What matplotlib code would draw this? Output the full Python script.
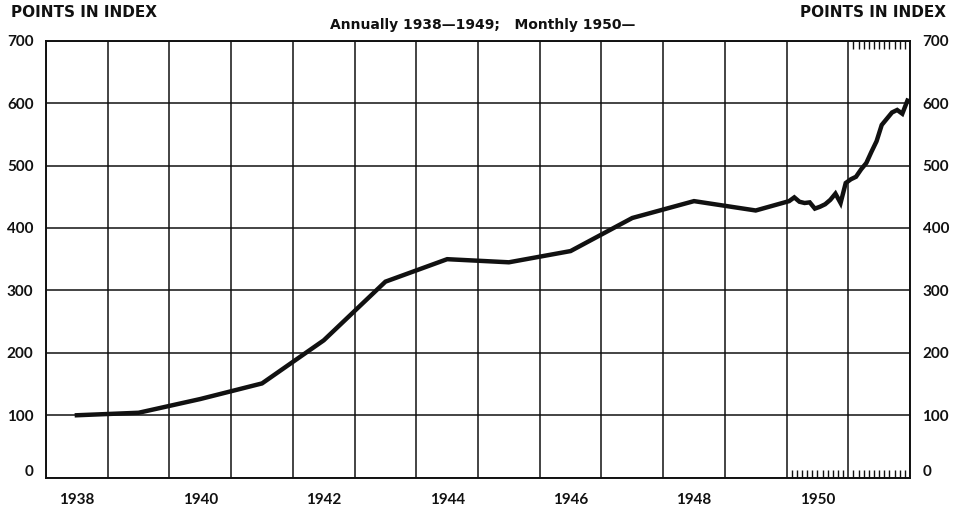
#! /usr/bin/env python3

import matplotlib.pyplot as plt
import matplotlib.transforms as mtrans
import numpy as np

plt.rcParams['font.family'] = ['Lato', 'DejaVu Sans']
plt.rcParams['font.weight'] = 'bold'

# Annual values 1938-1949 (plotted mid-year)
annual_years = [1938, 1939, 1940, 1941, 1942, 1943, 1944, 1945, 1946, 1947, 1948, 1949]
annual_index = [100, 104, 126, 151, 220, 314, 350, 345, 363, 416, 443, 428]

# Monthly values Jan 1950 - Dec 1951
monthly_index = [443, 449, 442, 440, 441, 431, 434, 438, 445, 455, 440, 472,
                 478, 482, 494, 504, 522, 539, 565, 575, 585, 589, 583, 604]

year_labels = [1938, 1940, 1942, 1944, 1946, 1948, 1950]
y_levels = [0, 100, 200, 300, 400, 500, 600, 700]

ink = '#111111'

x_annual = np.array(annual_years) + 0.5
x_monthly = 1950 + (np.arange(len(monthly_index)) + 0.5) / 12
x_all = np.concatenate([x_annual, x_monthly])
y_all = np.concatenate([annual_index, monthly_index])

fig = plt.figure(figsize=(9.57, 5.11), dpi=100)
ax = fig.add_axes([0.0481, 0.0652, 0.9028, 0.8552])

ax.plot(x_all, y_all, color=ink, lw=3.2, solid_joinstyle='miter')

ax.set_xlim(1938, 1952)
ax.set_ylim(0, 700)

# grid on year boundaries and every 100 points
ax.set_xticks(range(1938, 1953))
ax.set_xticklabels([])
ax.set_yticks(y_levels)
ax.grid(True, color=ink, lw=1.1)
ax.tick_params(axis='x', which='major', length=0)
ax.tick_params(axis='y', length=0, labelsize=11, labelright=True,
               pad=9, colors=ink)
for lbl in ax.get_yticklabels(which='both'):
    lbl.set_fontweight('bold')

# lift the "0" labels off the baseline a little
off = mtrans.ScaledTranslation(0, 5 / 72, fig.dpi_scale_trans)
for t in ax.yaxis.get_major_ticks()[:1]:
    t.label1.set_transform(t.label1.get_transform() + off)
    t.label2.set_transform(t.label2.get_transform() + off)

# monthly ticks along the bottom (1950-51) and top (1951)
months_bottom = [1950 + k / 12 for k in range(1, 24) if k != 12]
ax.set_xticks(months_bottom, minor=True)
ax.tick_params(axis='x', which='minor', direction='in', length=6, width=1,
               color=ink)

top = ax.secondary_xaxis('top')
top.set_xticks([])
top.set_xticks([1951 + k / 12 for k in range(1, 12)], minor=True)
top.tick_params(which='minor', direction='in', length=6, width=1, color=ink)
top.spines['top'].set_visible(False)

bot = ax.secondary_xaxis('bottom')
bot.set_xticks([y + 0.5 for y in year_labels], [str(y) for y in year_labels])
bot.tick_params(length=0, labelsize=11, pad=11, colors=ink)
bot.spines['bottom'].set_visible(False)

for s in ax.spines.values():
    s.set_color(ink)
    s.set_linewidth(1.4)

head = dict(family=['DejaVu Sans'], fontsize=11, color=ink,
            fontweight='bold', va='center')
fig.text(0.012, 0.975, 'POINTS IN INDEX', ha='left', **head)
fig.text(0.988, 0.975, 'POINTS IN INDEX', ha='right', **head)
fig.text(0.504, 0.951, 'Annually 1938\u20141949;   Monthly 1950\u2014',
         family=['DejaVu Sans'], fontsize=10, fontweight='semibold',
         color=ink, ha='center', va='center')

plt.savefig('out.png', dpi=100)
